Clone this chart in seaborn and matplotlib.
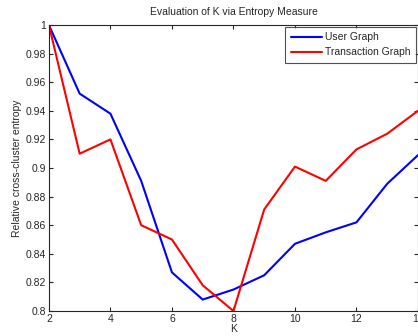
import numpy as np
import pandas as pd
import matplotlib
matplotlib.use("Agg")
import matplotlib.pyplot as plt
import seaborn as sns

# data
k_values = [2, 3, 4, 5, 6, 7, 8, 9, 10, 11, 12, 13, 14]
user_graph = [1.000, 0.952, 0.938, 0.891, 0.827, 0.808, 0.815, 0.825, 0.847, 0.855, 0.862, 0.889, 0.909]
transaction_graph = [1.000, 0.910, 0.920, 0.860, 0.850, 0.818, 0.800, 0.871, 0.901, 0.891, 0.913, 0.924, 0.940]
series_names = ["User Graph", "Transaction Graph"]

df = pd.DataFrame({
    "K": k_values * 2,
    "entropy": user_graph + transaction_graph,
    "series": [series_names[0]] * len(k_values) + [series_names[1]] * len(k_values),
})

sns.set_style("ticks")
plt.rcParams["font.family"] = ["Liberation Sans", "DejaVu Sans"]

fig = plt.figure(figsize=(4.18, 3.36), dpi=100)
ax = fig.add_axes([0.117, 0.0744, 0.883, 0.8512])

sns.lineplot(data=df, x="K", y="entropy", hue="series",
             palette={"User Graph": "#0000ff", "Transaction Graph": "#ff0000"},
             linewidth=1.5, ax=ax)

ax.set_xlim(2, 14)
ax.set_ylim(0.8, 1.0)
ax.set_xticks([2, 4, 6, 8, 10, 12, 14])
ax.set_yticks(np.round(np.arange(0.8, 1.0001, 0.02), 2))
ax.set_yticklabels(["0.8", "0.82", "0.84", "0.86", "0.88", "0.9",
                    "0.92", "0.94", "0.96", "0.98", "1"])
ax.tick_params(direction="in", length=3, labelsize=7.5, colors="#262626",
               top=True, right=True, pad=2)
for s in ax.spines.values():
    s.set_visible(True)
    s.set_color("#262626")
    s.set_linewidth(0.8)

ax.set_title("Evaluation of K via Entropy Measure", fontsize=7.5, color="#262626", pad=7)
ax.set_xlabel("K", fontsize=7.5, color="#262626", labelpad=0)
ax.set_ylabel("Relative cross-cluster entropy", fontsize=7.5, color="#262626", labelpad=3)

leg = ax.legend(loc="upper right", fontsize=7.5, frameon=True, fancybox=False,
                edgecolor="#262626", handlelength=3.0, borderaxespad=0.15,
                borderpad=0.55, labelspacing=0.5, handletextpad=0.3)
leg.get_frame().set_linewidth(0.8)

fig.savefig("out.png", dpi=100)
